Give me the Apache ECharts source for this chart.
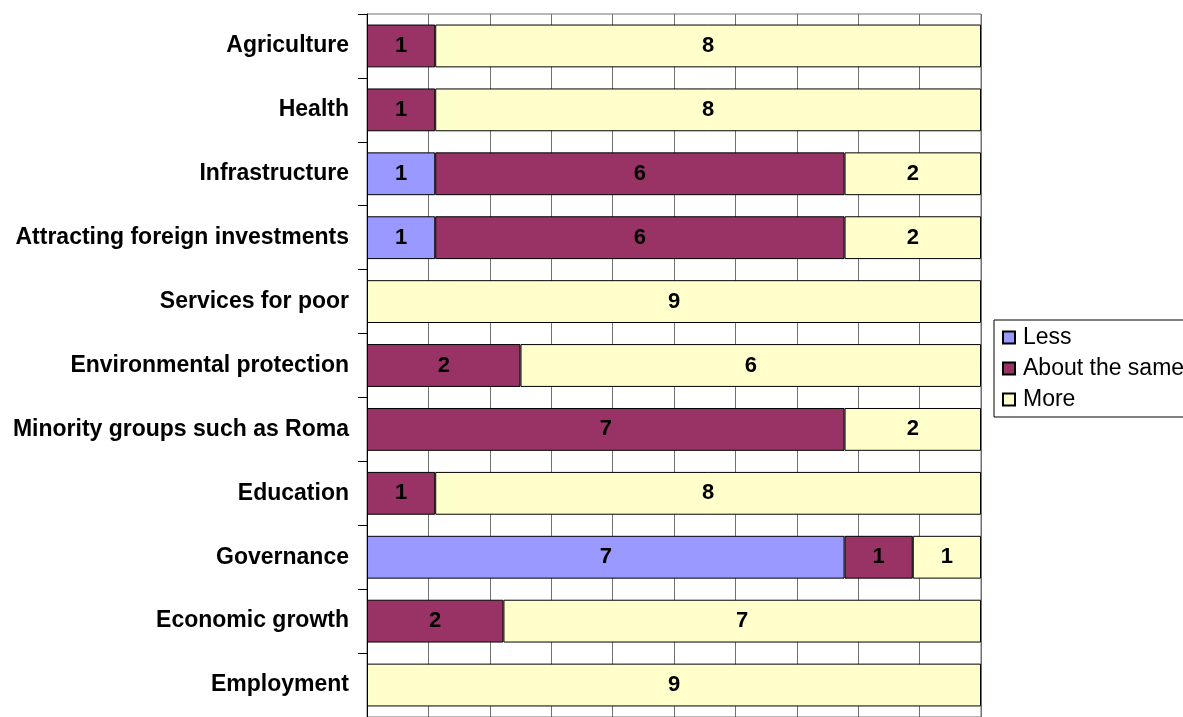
<!DOCTYPE html>
<html>
<head>
<meta charset="utf-8">
<script src="https://cdn.jsdelivr.net/npm/echarts@6/dist/echarts.min.js"></script>
<style>html,body{margin:0;padding:0;background:#fff}#c{width:1183px;height:717px}</style>
</head>
<body>
<div id="c"></div>
<script>
var categories = ["Agriculture","Health","Infrastructure","Attracting foreign investments","Services for poor","Environmental protection","Minority groups such as Roma","Education","Governance","Economic growth","Employment"];
var less = [0,0,1,1,0,0,0,0,7,0,0];
var aboutSame = [1,1,6,6,0,2,7,1,1,2,0];
var more = [8,8,2,2,9,6,2,8,1,7,9];
var seriesNames = ["Less","About the same","More"];
var colors = ["#9999FF","#993366","#FFFFCC"];
var xTicks = [0,10,20,30,40,50,60,70,80,90,100];

var totals = categories.map(function(_, i){ return less[i] + aboutSame[i] + more[i]; });
function toPct(arr){
  return arr.map(function(v, i){ return v ? { value: v / totals[i] * 100, count: v } : null; });
}
var raw = [less, aboutSame, more];
var font = "'Liberation Sans', Arial, sans-serif";
var series = raw.map(function(arr, k){
  return {
    name: seriesNames[k],
    type: 'bar',
    stack: 'total',
    barCategoryGap: '33%',
    data: toPct(arr),
    itemStyle: { color: colors[k], borderColor: '#000', borderWidth: 1 },
    label: {
      show: true, position: 'inside', color: '#000', fontWeight: 'bold',
      fontSize: 22, fontFamily: font,
      formatter: function(p){ return p.data ? p.data.count : ''; }
    },
    emphasis: { disabled: true }
  };
});

var chart = echarts.init(document.getElementById('c'));
chart.setOption({
  animation: false,
  backgroundColor: '#fff',
  grid: { left: 367, right: 202, top: 14, bottom: 0, show: true, borderColor: '#707070', borderWidth: 1, backgroundColor: 'transparent' },
  legend: {
    orient: 'vertical', left: 994, top: 320,
    data: seriesNames,
    itemWidth: 12, itemHeight: 12, itemGap: 8,
    padding: [6, 60, 6, 8],
    borderColor: '#000', borderWidth: 1, backgroundColor: '#fff',
    icon: 'rect',
    selectedMode: false,
    textStyle: { fontSize: 23, fontFamily: font, color: '#000', lineHeight: 23, padding: [0,0,0,3] }
  },
  xAxis: {
    type: 'value', min: xTicks[0], max: xTicks[xTicks.length-1], interval: 10,
    axisLabel: { show: false },
    axisLine: { show: false },
    axisTick: { show: true, length: 5, lineStyle: { color: '#000' } },
    splitLine: { show: true, lineStyle: { color: '#707070', width: 1 } }
  },
  yAxis: {
    type: 'category', data: categories, inverse: true,
    axisLine: { show: true, lineStyle: { color: '#000', width: 1 } },
    axisTick: { show: true, length: 9, alignWithLabel: false, lineStyle: { color: '#000' } },
    axisLabel: { fontSize: 23, fontWeight: 'bold', fontFamily: font, color: '#000', margin: 18 }
  },
  series: series
});
</script>
</body>
</html>
